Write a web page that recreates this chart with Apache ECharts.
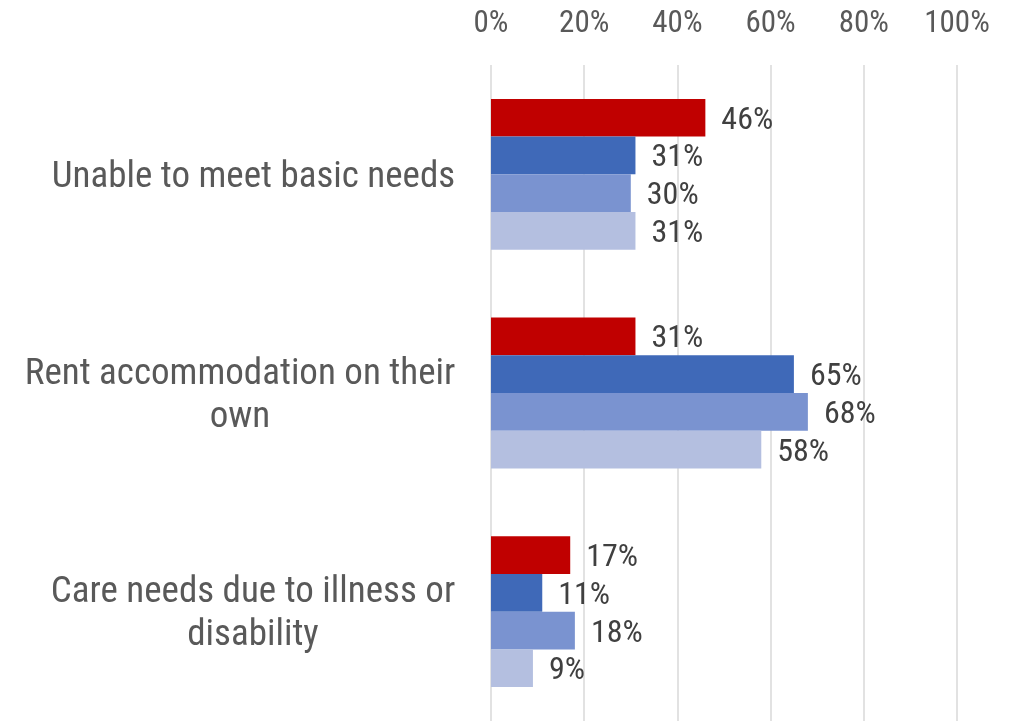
<!DOCTYPE html>
<html><head><meta charset="utf-8">
<script src="https://cdn.jsdelivr.net/npm/echarts@6/dist/echarts.min.js"></script>
<style>html,body{margin:0;padding:0;background:#fff}#c{width:1009px;height:721px}</style>
</head><body><div id="c"></div>
<script>
const categories = ['Unable to meet basic needs', 'Rent accommodation on their\nown', 'Care needs due to illness or\ndisability'];
const seriesA = [46, 31, 17];
const seriesB = [31, 65, 11];
const seriesC = [30, 68, 18];
const seriesD = [31, 58, 9];
const colors = ['#C00000', '#3F69B8', '#7A93D0', '#B4BFE0'];
const FONT = '"Roboto Condensed", Roboto, sans-serif';
const CAT_SIZE = 37;

// measure each category's widest line so multi-line labels are centered per line
const ctx = document.createElement('canvas').getContext('2d');
ctx.font = CAT_SIZE + 'px ' + FONT;
const rich = {};
categories.forEach((c, i) => {
  const w = Math.max(...c.split('\n').map(s => ctx.measureText(s).width));
  rich['c' + i] = { width: Math.ceil(w) + 1, align: 'center', color: '#595959', fontSize: CAT_SIZE, fontFamily: FONT, lineHeight: 43 };
});

const chart = echarts.init(document.getElementById('c'));
const mk = (name, data, color) => ({
  name, type: 'bar', data, barGap: '0%', barCategoryGap: '31%',
  itemStyle: { color },
  label: { show: true, position: 'right', distance: 16, offset: [0, 3], formatter: '{c}%', color: '#404040', fontSize: 32, fontFamily: FONT }
});
chart.setOption({
  animation: false,
  grid: { left: 491, right: 52, top: 65, bottom: -3, containLabel: false },
  xAxis: {
    type: 'value', position: 'top', min: 0, max: 100, interval: 20,
    axisLabel: { formatter: '{value}%', color: '#595959', fontSize: 31, fontFamily: FONT, margin: 25 },
    splitLine: { lineStyle: { color: '#D9D9D9', width: 1.5 } },
    axisLine: { show: false }, axisTick: { show: false }
  },
  yAxis: {
    type: 'category', data: categories, inverse: true,
    axisLine: { show: false }, axisTick: { show: false },
    axisLabel: {
      margin: 35, align: 'right', lineHeight: 43, padding: [6, 0, 0, 0],
      formatter: (v, i) => v.split('\n').map(s => '{c' + i + '|' + s + '}').join('\n'),
      rich
    }
  },
  series: [mk('A', seriesA, colors[0]), mk('B', seriesB, colors[1]), mk('C', seriesC, colors[2]), mk('D', seriesD, colors[3])]
});
</script></body></html>
